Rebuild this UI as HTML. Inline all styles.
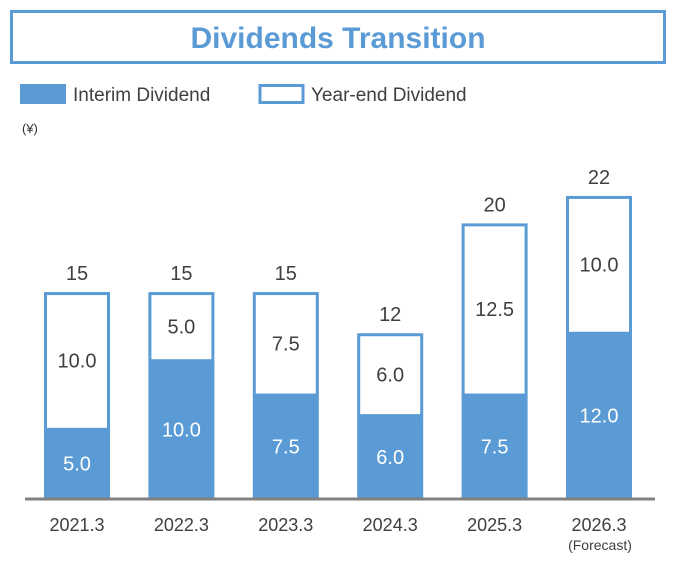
<!DOCTYPE html>
<html><head><meta charset="utf-8"><style>
body{margin:0;background:#fff;width:675px;height:563px;overflow:hidden;font-family:"Liberation Sans","DejaVu Sans",sans-serif;}
</style></head><body>
<svg width="675" height="563" xmlns="http://www.w3.org/2000/svg">
<rect x="11.5" y="11.5" width="653" height="51" fill="#fff" stroke="#5b9bd5" stroke-width="3"/>
<text x="338" y="48" text-anchor="middle" font-size="30" font-weight="bold" fill="#5b9bd5">Dividends Transition</text>
<rect x="20" y="84" width="46" height="20" fill="#5b9bd5"/>
<text x="73" y="101" font-size="19" fill="#404040">Interim Dividend</text>
<rect x="260" y="85.5" width="43" height="17" fill="#fff" stroke="#5b9bd5" stroke-width="3"/>
<text x="311" y="101" font-size="19" fill="#404040">Year-end Dividend</text>
<text x="22" y="133" font-size="13" fill="#333">(¥)</text>
<g id="bars"></g>
<line x1="25" y1="499" x2="655" y2="499" stroke="#808080" stroke-width="3"/>
<text x="600" y="550" text-anchor="middle" font-size="14" fill="#404040">(Forecast)</text>
</svg>
<script>
const categories=["2021.3","2022.3","2023.3","2024.3","2025.3","2026.3"];
const interim=[5.0,10.0,7.5,6.0,7.5,12.0];
const yearEnd=[10.0,5.0,7.5,6.0,12.5,10.0];
const totals=["15","15","15","12","20","22"];
const NS="http://www.w3.org/2000/svg";
const base=498,scale=13.73,x0=77,step=104.4,bw=63;
const y=v=>base-v*scale;
const g=document.getElementById('bars');
function mk(t,a){const e=document.createElementNS(NS,t);for(const k in a)e.setAttribute(k,a[k]);g.appendChild(e);return e;}
categories.forEach((c,i)=>{
 const cx=x0+i*step, tot=interim[i]+yearEnd[i];
 const r1=mk('rect',{x:cx-bw/2-1.5,y:y(interim[i]),width:bw+3,height:interim[i]*scale,fill:'#5b9bd5'});
 
 
 const r2=mk('rect',{x:cx-bw/2,y:y(tot)+1.5,width:bw,height:yearEnd[i]*scale-1.5,fill:'#fff',stroke:'#5b9bd5','stroke-width':3});
 
 
 const t1=mk('text',{x:cx,y:y(interim[i]/2)+7,'text-anchor':'middle','font-size':20,fill:'#fff'});
 t1.textContent=interim[i].toFixed(1);
 
 
 const t2=mk('text',{x:cx,y:y(interim[i]+yearEnd[i]/2)+7,'text-anchor':'middle','font-size':20,fill:'#404040'});
 t2.textContent=yearEnd[i].toFixed(1);
 
 
 const t3=mk('text',{x:cx,y:y(tot)-12,'text-anchor':'middle','font-size':20,fill:'#404040'});
 t3.textContent=totals[i];
 
 
 const t4=mk('text',{x:cx,y:531,'text-anchor':'middle','font-size':18,fill:'#404040'});
 t4.textContent=c;
 
 
});
</script>
</body></html>
